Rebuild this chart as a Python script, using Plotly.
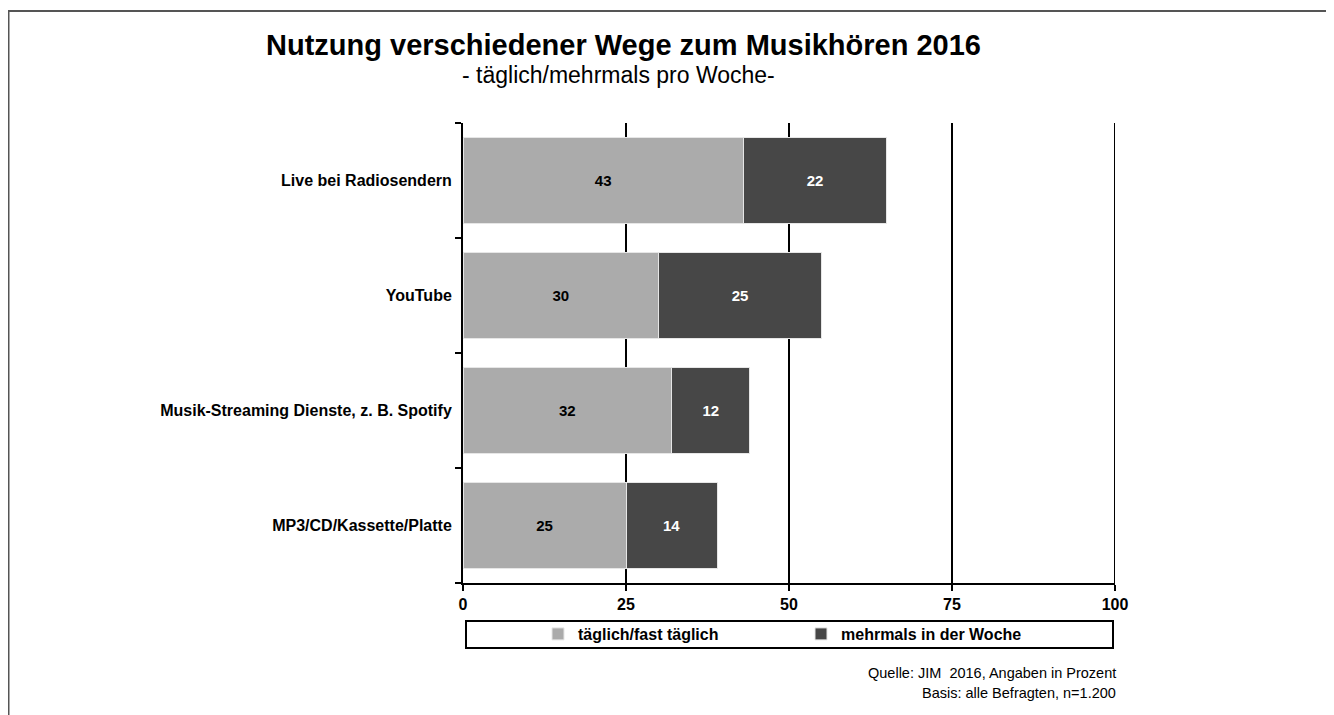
import plotly.graph_objects as go

categories = ["Live bei Radiosendern", "YouTube", "Musik-Streaming Dienste, z. B. Spotify", "MP3/CD/Kassette/Platte"]
daily = [43, 30, 32, 25]
weekly = [22, 25, 12, 14]
series_names = ["täglich/fast täglich", "mehrmals in der Woche"]
x_ticks = [0, 25, 50, 75, 100]

OFF = 8  # page body margin
FW, FH = 1326, 707
L, R, T, B = 463, 1115, 123, 583  # plot area in screen px
FONT = "Liberation Sans, Arial, sans-serif"

def px_x(p):
    return (p - L) / (R - L)

def px_y(p):
    return (B - p) / (B - T)

fig = go.Figure()
fig.add_trace(go.Bar(
    y=categories, x=daily, name=series_names[0], orientation="h",
    marker=dict(color="#ababab", line=dict(color="#e6e6e6", width=1)),
    text=daily, textposition="inside", insidetextanchor="middle",
    textfont=dict(color="black", size=15, family=FONT, weight="bold"),
    width=0.75,
))
fig.add_trace(go.Bar(
    y=categories, x=weekly, name=series_names[1], orientation="h",
    marker=dict(color="#474747", line=dict(color="#e6e6e6", width=1)),
    text=weekly, textposition="inside", insidetextanchor="middle",
    textfont=dict(color="white", size=15, family=FONT, weight="bold"),
    width=0.75,
))

fig.update_layout(
    width=FW, height=FH,
    margin=dict(l=L - OFF, r=FW - (R - OFF), t=T - OFF, b=FH - (B - OFF), pad=0),
    barmode="stack",
    plot_bgcolor="white", paper_bgcolor="white",
    font=dict(family=FONT, color="black"),
    xaxis=dict(
        range=[0, 100], tickvals=x_ticks, ticktext=[str(v) for v in x_ticks],
        showgrid=True, gridcolor="black", gridwidth=2,
        showline=True, linecolor="black", linewidth=2,
        ticks="outside", ticklen=6, tickwidth=2, tickcolor="black",
        tickfont=dict(size=16, family=FONT, weight="bold"),
        zeroline=False, fixedrange=True,
    ),
    yaxis=dict(
        categoryorder="array", categoryarray=categories[::-1],
        showline=True, linecolor="black", linewidth=2,
        ticks="outside", ticklen=6, tickwidth=2, tickcolor="black",
        tickson="boundaries", showgrid=False,
        tickfont=dict(size=16, family=FONT, weight="bold"),
        ticklabelstandoff=6, fixedrange=True,
    ),
    showlegend=True,
    legend=dict(
        orientation="h", x=px_x(538), y=px_y(634), xanchor="left", yanchor="middle",
        font=dict(size=16, family=FONT, weight="bold"),
        entrywidth=218, itemwidth=30, traceorder="normal",
        bgcolor="rgba(0,0,0,0)", borderwidth=0,
    ),
    title=dict(
        text="Nutzung verschiedener Wege zum Musikhören 2016",
        x=((262 + 985) / 2 - OFF) / FW, xanchor="center",
        y=1 - (45 - OFF) / FH, yanchor="middle",
        font=dict(size=29, family=FONT, weight="bold", color="black"),
    ),
)

# gridline at 100 (plot edge)
fig.add_shape(type="line", xref="x", yref="paper", x0=100, x1=100, y0=0, y1=1,
              line=dict(color="black", width=2), layer="below")

fig.add_annotation(
    text="- täglich/mehrmals pro Woche-", xref="paper", yref="paper",
    x=px_x(618), y=px_y(75), xanchor="center", yanchor="middle", showarrow=False,
    font=dict(size=23, family=FONT, color="black"),
)
fig.add_annotation(
    text="Quelle: JIM  2016, Angaben in Prozent", xref="paper", yref="paper",
    x=px_x(1118), y=px_y(673), xanchor="right", yanchor="middle", showarrow=False,
    font=dict(size=14.5, family=FONT, color="black"),
)
fig.add_annotation(
    text="Basis: alle Befragten, n=1.200", xref="paper", yref="paper",
    x=px_x(1118), y=px_y(693), xanchor="right", yanchor="middle", showarrow=False,
    font=dict(size=14.5, family=FONT, color="black"),
)

# legend box
fig.add_shape(type="rect", xref="paper", yref="paper",
              x0=px_x(466), x1=px_x(1113), y0=px_y(648), y1=px_y(621),
              line=dict(color="black", width=2), fillcolor="rgba(0,0,0,0)")
# outer frame
fig.add_shape(type="rect", xref="paper", yref="paper",
              x0=px_x(8.5), x1=px_x(1329), y0=px_y(740), y1=px_y(11),
              line=dict(color="#555555", width=2), fillcolor="rgba(0,0,0,0)")

fig.write_html("out.html")
